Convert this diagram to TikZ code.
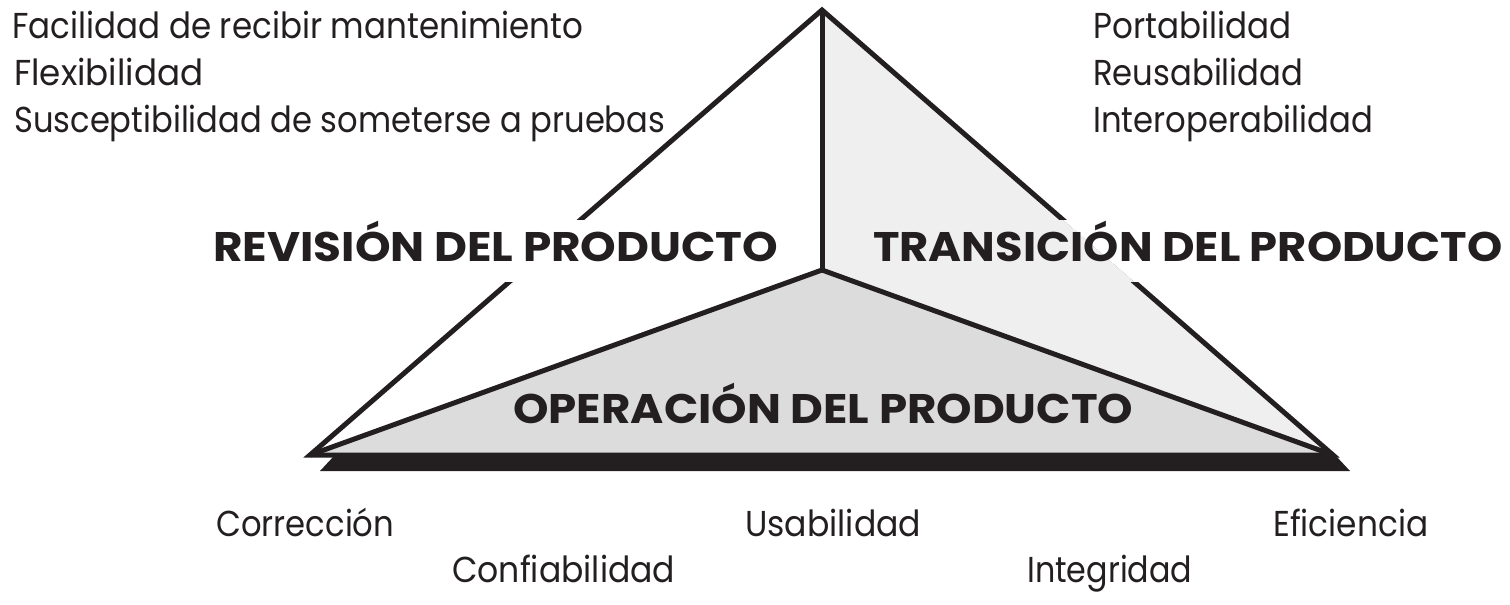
\documentclass[tikz,border=0pt]{standalone}
\usepackage{fontspec}
\usepackage{graphicx}
\setmainfont{Poppins}
\newfontfamily\bfam{Poppins}[UprightFont=* Bold]
\newdimen\pxu \pxu=0.75pt
\newcommand\fitw[2]{\resizebox{#1\pxu}{\height}{#2}}
\newcommand\hstrut{\rule[-21\pxu]{0pt}{37\pxu}}
\definecolor{ink}{HTML}{231F20}
\definecolor{lightg}{HTML}{EFEFEF}
\definecolor{midg}{HTML}{DCDCDC}
\pgfdeclarelayer{back}
\pgfdeclarelayer{knock}
\pgfsetlayers{back,knock,main}
\begin{document}
\begin{tikzpicture}[x=0.75pt,y=-0.75pt,
  txt/.style={inner sep=0pt, anchor=base west, text=ink, font=\fontsize{27}{30}\selectfont},
  head/.style={inner sep=0pt, anchor=base west, text=ink, font=\bfam\fontsize{31}{34}\selectfont},
  edge/.style={draw=ink, line width=3.75pt, line join=miter}]
\useasboundingbox (0,0) rectangle (1510,604);
\coordinate (A) at (822,10);
\coordinate (L) at (310,455);
\coordinate (R) at (1333,455);
\coordinate (C) at (822,270);
\coordinate (S1) at (320,471);
\coordinate (S2) at (334,456);
\coordinate (S3) at (1336,456);
\coordinate (S4) at (1350,471);
\coordinate (Q1) at (1510,455);
\coordinate (Q2) at (1510,10);
% top-left list
\node[txt] (f1) at (12,38) {\fitw{571}{Facilidad de recibir mantenimiento}};
\node[txt] (f2) at (14,85) {\fitw{189}{Flexibilidad}};
\node[txt] (f3) at (14,132) {\fitw{651}{Susceptibilidad de someterse a pruebas}};
% top-right list
\node[txt] (p1) at (1093,38) {\fitw{198}{Portabilidad}};
\node[txt] (p2) at (1093,85) {\fitw{210}{Reusabilidad}};
\node[txt] (p3) at (1093,132) {\fitw{280}{Interoperabilidad}};
% headings
\node[head] (h1) at (213,261) {\hstrut\fitw{565}{REVISIÓN DEL PRODUCTO}};
\node[head] (h2) at (873,261) {\hstrut\fitw{629}{TRANSICIÓN DEL PRODUCTO}};
\node[head] (h3) at (513,423) {\fitw{620}{OPERACIÓN DEL PRODUCTO}};
% bottom list
\node[txt] (b1) at (216,536) {\fitw{178}{Corrección}};
\node[txt] (b2) at (745,536) {\fitw{176}{Usabilidad}};
\node[txt] (b3) at (1273,536) {\fitw{155}{Eficiencia}};
\node[txt] (b4) at (452,582) {\fitw{223}{Confiabilidad}};
\node[txt] (b5) at (1027,582) {\fitw{165}{Integridad}};
\begin{pgfonlayer}{back}
  % shadow
  \fill[ink] (S1) -- (S2) -- (S3) -- (S4) -- cycle;
  % fills
  \fill[lightg] (A) -- (R) -- (C) -- cycle;
  \fill[midg] (L) -- (C) -- (R) -- cycle;
  % edges
  \draw[edge] (A) -- (L) -- (R) -- cycle;
  \draw[edge] (A) -- (C);
  \draw[edge] (L) -- (C) -- (R);
\end{pgfonlayer}
\begin{pgfonlayer}{knock}
  \fill[white] (h1.south west) rectangle (h1.north east);
  \begin{scope}
    \clip (A) -- (R) -- (C) -- cycle;
    \fill[lightg] (h2.south west) rectangle (h2.north east);
  \end{scope}
  \begin{scope}
    \clip (A) -- (R) -- (Q1) -- (Q2) -- cycle;
    \fill[white] (h2.south west) rectangle (h2.north east);
  \end{scope}
\end{pgfonlayer}
\end{tikzpicture}
\end{document}
